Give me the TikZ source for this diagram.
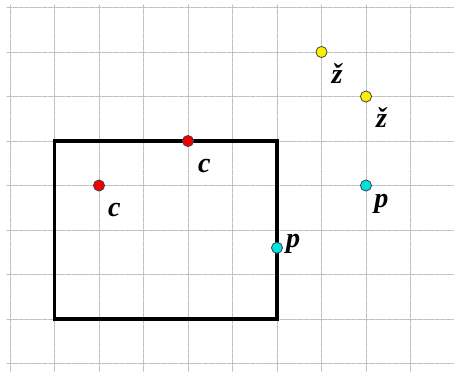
\documentclass[tikz,border=0pt]{standalone}
\usepackage{fontspec}
\setmainfont{Liberation Serif}
\usetikzlibrary{positioning}
\definecolor{ptred}{RGB}{240,0,0}
\definecolor{ptyellow}{RGB}{250,240,0}
\definecolor{ptcyan}{RGB}{0,225,225}
\tikzset{
	gridline/.style={black!25, line width=0.6pt, dash pattern=on 3pt off 0.8pt},
	frame/.style={line width=2pt, line join=miter},
	dot/.style={circle, draw=black!75, line width=0.5pt, minimum size=0.25cm, inner sep=0pt},
	lbl/.style={inner sep=0pt, font=\fontsize{18}{20}\selectfont\bfseries\itshape},
}
\begin{document}
\begin{tikzpicture}[line join=round,line cap=round]
				\useasboundingbox (-0.225,-0.169) rectangle (9.978,8.169);
				% grid
				\foreach \x in {0,...,9} \draw[gridline] (\x,-0.17)--(\x,8.06);
				\foreach \y in {0,...,8} \draw[gridline] (-0.07,\y)--(9.98,\y);
				% rectangle
				\draw[frame] (1,1) rectangle (6,5);
				% points
				\node[dot, fill=ptred] (c1) at (2,4) {};
				\node[dot, fill=ptred] (c2) at (4,5) {};
				\node[dot, fill=ptyellow] (z1) at (7,7) {};
				\node[dot, fill=ptyellow] (z2) at (8,6) {};
				\node[dot, fill=ptcyan] (p1) at (8,4) {};
				\node[dot, fill=ptcyan] (p2) at (6,2.6) {};
				% labels
				\node[lbl, below right=0.4cm and 0.2cm of c1.center] (lc1) {c};
				\node[lbl, below right=0.4cm and 0.22cm of c2.center] (lc2) {c};
				\node[lbl, below right=0.25cm and 0.22cm of z1.center] (lz1) {ž};
				\node[lbl, below right=0.25cm and 0.22cm of z2.center] (lz2) {ž};
				\node[lbl, below right=0.2cm and 0.18cm of p1.center] (lp1) {p};
				\node[lbl, right=0.2cm of p2.center, anchor=base west] (lp2) {p};
			\end{tikzpicture}
\end{document}
